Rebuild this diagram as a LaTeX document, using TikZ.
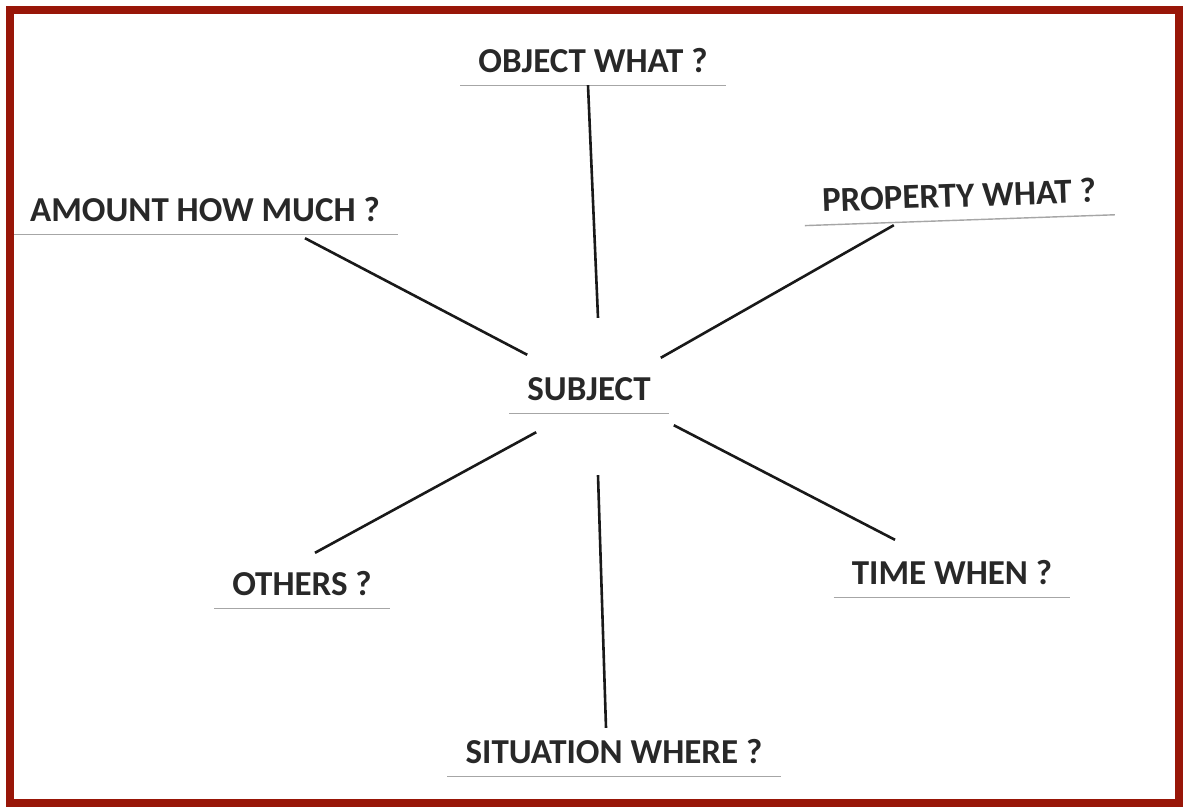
\documentclass[tikz,border=0pt]{standalone}
\usepackage{fontspec}
\setmainfont{Carlito}
\definecolor{frame}{RGB}{152,22,8}
\definecolor{ink}{RGB}{40,40,40}
\tikzset{
	slip/.style = {fill = white, inner xsep = 18pt, inner ysep = 13pt, text height = 22pt, text depth = 0pt,
		font = \fontsize{35}{35}\selectfont\bfseries, text = ink},
	slipline/.style = {gray!70, line width = 1.4pt},
	spoke/.style = {black!90, line width = 2.6pt}
}
\begin{document}
\begin{tikzpicture} [x = 1pt, y = -1pt]
	\useasboundingbox (0,0) rectangle (1183,807);
	\fill [white] (0,0) rectangle (1183,807);
	% the slips
	\node [slip] (subject) at (589,389) {SUBJECT};
	\node [slip] (object) at (593,61) {OBJECT WHAT ?};
	\node [slip] (amount) at (205,210) {AMOUNT HOW MUCH ?};
	\node [slip, rotate = 2] (property) at (959,196) {PROPERTY WHAT ?};
	\node [slip] (others) at (302,584) {OTHERS ?};
	\node [slip] (time) at (952,573) {TIME WHEN ?};
	\node [slip] (situation) at (614,752) {SITUATION WHERE ?};
	\foreach \n in {subject, object, amount, property, others, time, situation}
		\draw [slipline] (\n.south west) -- (\n.south east);
	% spokes
	\draw [spoke] ([xshift = -5pt]object.south) -- ([xshift = 9pt, yshift = 47pt]subject.north);
	\draw [spoke] ([xshift = 100pt, yshift = -4pt]amount.south) -- ([xshift = 18pt, yshift = 10pt]subject.north west);
	\draw [spoke] ([xshift = -66pt, yshift = -5pt]property.south) -- ([xshift = -8pt, yshift = 7pt]subject.north east);
	\draw [spoke] ([xshift = 13pt, yshift = 7pt]others.north) -- ([xshift = 27pt, yshift = -19pt]subject.south west);
	\draw [spoke] ([xshift = -57pt, yshift = 9pt]time.north) -- ([xshift = 5pt, yshift = -12pt]subject.south east);
	\draw [spoke] ([xshift = -8pt]situation.north) -- ([xshift = 9pt, yshift = -62pt]subject.south);
	% frame on top
	\draw [frame, line width = 8pt] (10,10) rectangle (1179,803);
\end{tikzpicture}
\end{document}
